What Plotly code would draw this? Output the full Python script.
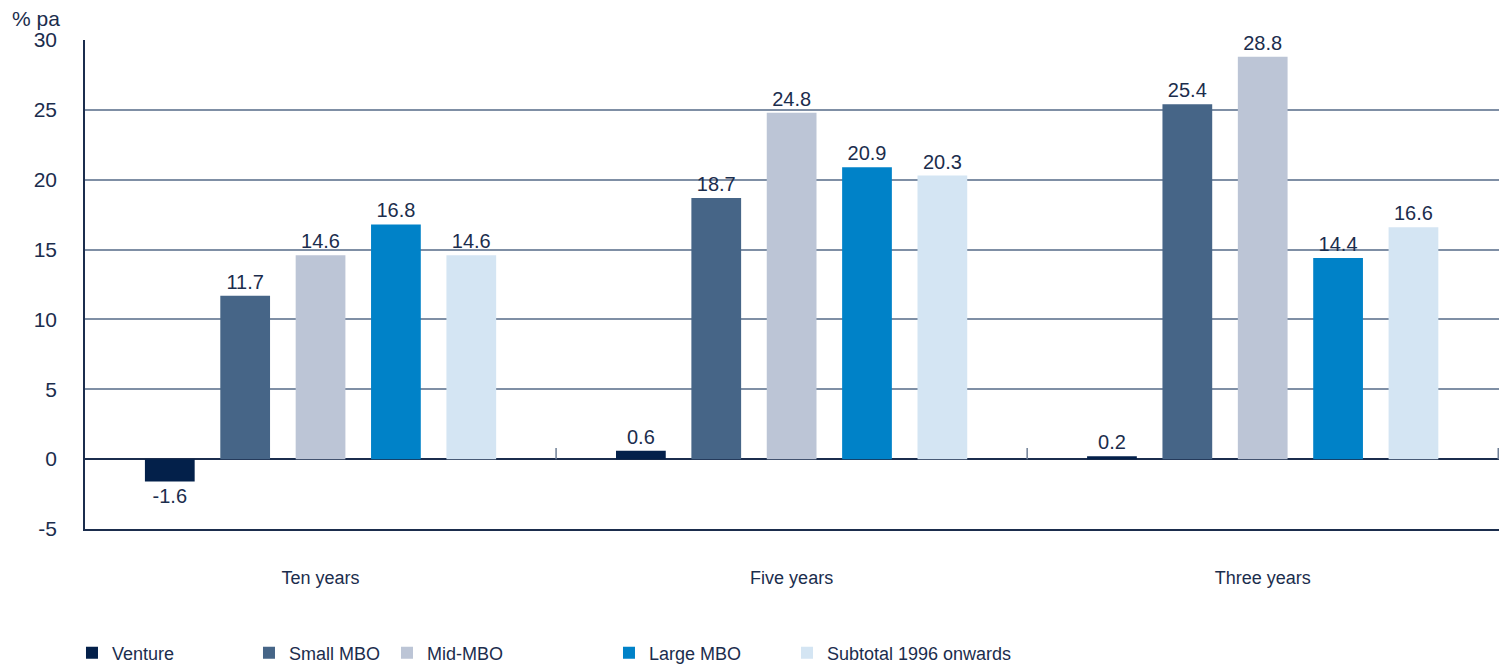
import plotly.graph_objects as go

# Annualised returns (% pa) by horizon and segment
horizons = ["Ten years", "Five years", "Three years"]
series_names = ["Venture", "Small MBO", "Mid-MBO", "Large MBO", "Subtotal 1996 onwards"]
venture = [-1.6, 0.6, 0.2]
small_mbo = [11.7, 18.7, 25.4]
mid_mbo = [14.6, 24.8, 28.8]
large_mbo = [16.8, 20.9, 14.4]
subtotal = [14.6, 20.3, 16.6]
y_ticks = [-5, 0, 5, 10, 15, 20, 25, 30]
y_tick_labels = ["-5", "0", "5", "10", "15", "20", "25", "30"]

series_values = [venture, small_mbo, mid_mbo, large_mbo, subtotal]
colors = ["#03204a", "#466587", "#bcc5d6", "#0082c8", "#d4e5f3"]
legend_widths = [132, 93, 177, 133, None]

NAVY = "#1b2d4d"
FONT = "Liberation Sans, Arial, Helvetica, sans-serif"

fig = go.Figure()
for name, vals, col, lw in zip(series_names, series_values, colors, legend_widths):
    kw = {}
    if lw:
        kw["legendwidth"] = lw
    fig.add_trace(go.Bar(
        name=name, x=horizons, y=vals,
        marker=dict(color=col, line=dict(width=0)),
        text=[f"{v:.1f}" for v in vals],
        textposition="outside",
        textfont=dict(size=20, color=NAVY, family=FONT),
        cliponaxis=False,
        **kw,
    ))

# small vertical dividers on the zero line between horizon groups
for xb in [0.5, 1.5, 2.5]:
    fig.add_shape(type="line", xref="x", yref="y", x0=xb, x1=xb, y0=0, y1=0.8,
                  line=dict(color="#6f7f96", width=1.5))

fig.add_annotation(text="% pa", xref="paper", yref="paper", x=-0.0163, y=1.043,
                   xanchor="right", yanchor="middle", showarrow=False,
                   font=dict(size=21, color=NAVY, family=FONT))

fig.update_layout(
    width=1510, height=665,
    margin=dict(l=85, r=11, t=40, b=136, autoexpand=False),
    paper_bgcolor="white", plot_bgcolor="white",
    barmode="group", bargap=0.2, bargroupgap=0.34,
    font=dict(family=FONT, color=NAVY),
    showlegend=True,
    legend=dict(orientation="h", x=-0.0092, xanchor="left", y=-0.216, yanchor="top",
                font=dict(size=18, color=NAVY, family=FONT),
                traceorder="normal", itemclick=False),
    xaxis=dict(showgrid=False, showline=True, linecolor=NAVY, linewidth=1.5,
               ticks="", tickfont=dict(size=18, color=NAVY, family=FONT),
               ticklabelstandoff=32, automargin=False),
    yaxis=dict(range=[-5, 30], tickvals=y_ticks, ticktext=y_tick_labels,
               showgrid=True, gridcolor="#7f8fa5", gridwidth=1.5, zeroline=True,
               zerolinecolor=NAVY, zerolinewidth=1.5, showline=True,
               linecolor=NAVY, linewidth=1.5, ticks="",
               tickfont=dict(size=21, color=NAVY, family=FONT),
               ticklabelstandoff=22, automargin=False),
)

fig.write_html("out.html")
